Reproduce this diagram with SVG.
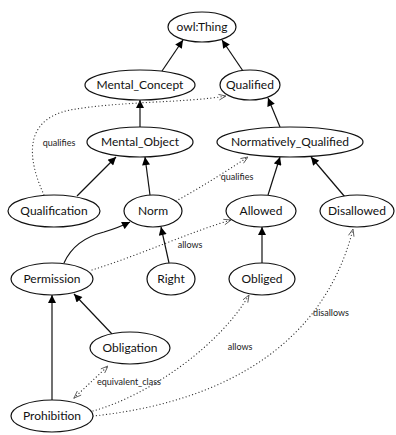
<svg xmlns="http://www.w3.org/2000/svg" width="396" height="435" viewBox="0 0 396 435">
<style>
.n ellipse{fill:#fff;stroke:#111;stroke-width:1.2}
.n text{font-family:Lato,"Liberation Sans",sans-serif;font-size:12px;fill:#111;text-anchor:middle}
.e{fill:none;stroke:#111;stroke-width:1.2}
.d{fill:none;stroke:#333;stroke-width:1.2;stroke-dasharray:0.1 3.3;stroke-linecap:round}
.l{font-family:Lato,"Liberation Sans",sans-serif;font-size:9px;fill:#222;text-anchor:middle}
</style>
<defs>
<marker id="arr" viewBox="0 0 10 10" refX="10" refY="5" markerWidth="9" markerHeight="8" orient="auto" markerUnits="userSpaceOnUse"><path d="M0,0 L10,5 L0,10 z" fill="#000"/></marker>
<marker id="vee" viewBox="0 0 10 10" refX="10" refY="5" markerWidth="8" markerHeight="8" orient="auto-start-reverse" markerUnits="userSpaceOnUse"><path d="M1,1.5 L10,5 L1,8.5" fill="none" stroke="#555" stroke-width="1.1"/></marker>
</defs>
<rect width="396" height="435" fill="#fff"/>
<g id="connectors">
<path class="e" d="M162 71 L183 40" marker-end="url(#arr)"/>
<path class="e" d="M243 71 L222 40" marker-end="url(#arr)"/>
<path class="e" d="M140 127 L140 100" marker-end="url(#arr)"/>
<path class="e" d="M280 127 L268 98" marker-end="url(#arr)"/>
<path class="e" d="M77 196 L116 157" marker-end="url(#arr)"/>
<path class="e" d="M150 195 L145 157" marker-end="url(#arr)"/>
<path class="e" d="M268 195 L280 157" marker-end="url(#arr)"/>
<path class="e" d="M345 197 L311 157" marker-end="url(#arr)"/>
<path class="e" d="M64 263 C72 245 88 236 104 232 C114 229 122 226 130 222" marker-end="url(#arr)"/>
<path class="e" d="M169 263 L161 227" marker-end="url(#arr)"/>
<path class="e" d="M262 263 L262 227" marker-end="url(#arr)"/>
<path class="e" d="M52 400 L52 295" marker-end="url(#arr)"/>
<path class="e" d="M112 334 L74 294" marker-end="url(#arr)"/>
<path class="d" d="M44 195 C28 160 22 120 70 110 C120 101 185 103 226 96" marker-end="url(#vee)"/>
<path class="d" d="M176 201 C200 188 225 172 248 157" marker-end="url(#vee)"/>
<path class="d" d="M92 270 C140 255 190 232 231 220" marker-end="url(#vee)"/>
<path class="d" d="M93 411 C150 395 220 345 249 295" marker-end="url(#vee)"/>
<path class="d" d="M93 416 C200 405 320 360 353 229" marker-end="url(#vee)"/>
<path class="d" d="M74 398 L108 366" marker-start="url(#vee)" marker-end="url(#vee)"/>
<text class="l" x="59" y="146">qualifies</text>
<text class="l" x="237" y="180">qualifies</text>
<text class="l" x="190" y="248">allows</text>
<text class="l" x="240" y="350">allows</text>
<text class="l" x="331" y="316">disallows</text>
<text class="l" x="129" y="385">equivalent_class</text>
</g>
<g id="owl_Thing" class="n"><ellipse cx="202" cy="27" rx="34" ry="15"/><text x="202" y="31">owl:Thing</text></g>
<g id="Mental_Concept" class="n"><ellipse cx="140" cy="85" rx="55" ry="15"/><text x="140" y="89">Mental_Concept</text></g>
<g id="Qualified" class="n"><ellipse cx="250" cy="85" rx="30" ry="15"/><text x="250" y="89">Qualified</text></g>
<g id="Mental_Object" class="n"><ellipse cx="140" cy="142" rx="53" ry="15"/><text x="140" y="146">Mental_Object</text></g>
<g id="Normatively_Qualified" class="n"><ellipse cx="290" cy="142" rx="73" ry="15"/><text x="290" y="146">Normatively_Qualified</text></g>
<g id="Qualification" class="n"><ellipse cx="54" cy="211" rx="46" ry="16"/><text x="54" y="215">Qualification</text></g>
<g id="Norm" class="n"><ellipse cx="153" cy="211" rx="29" ry="16"/><text x="153" y="215">Norm</text></g>
<g id="Allowed" class="n"><ellipse cx="261" cy="211" rx="35" ry="16"/><text x="261" y="215">Allowed</text></g>
<g id="Disallowed" class="n"><ellipse cx="357" cy="211" rx="37" ry="16"/><text x="357" y="215">Disallowed</text></g>
<g id="Permission" class="n"><ellipse cx="52" cy="279" rx="41" ry="16"/><text x="52" y="283">Permission</text></g>
<g id="Right" class="n"><ellipse cx="171" cy="279" rx="24" ry="16"/><text x="171" y="283">Right</text></g>
<g id="Obliged" class="n"><ellipse cx="262" cy="279" rx="33" ry="16"/><text x="262" y="283">Obliged</text></g>
<g id="Obligation" class="n"><ellipse cx="130" cy="348" rx="40" ry="16"/><text x="130" y="352">Obligation</text></g>
<g id="Prohibition" class="n"><ellipse cx="52" cy="416" rx="41" ry="16"/><text x="52" y="420">Prohibition</text></g>
</svg>
